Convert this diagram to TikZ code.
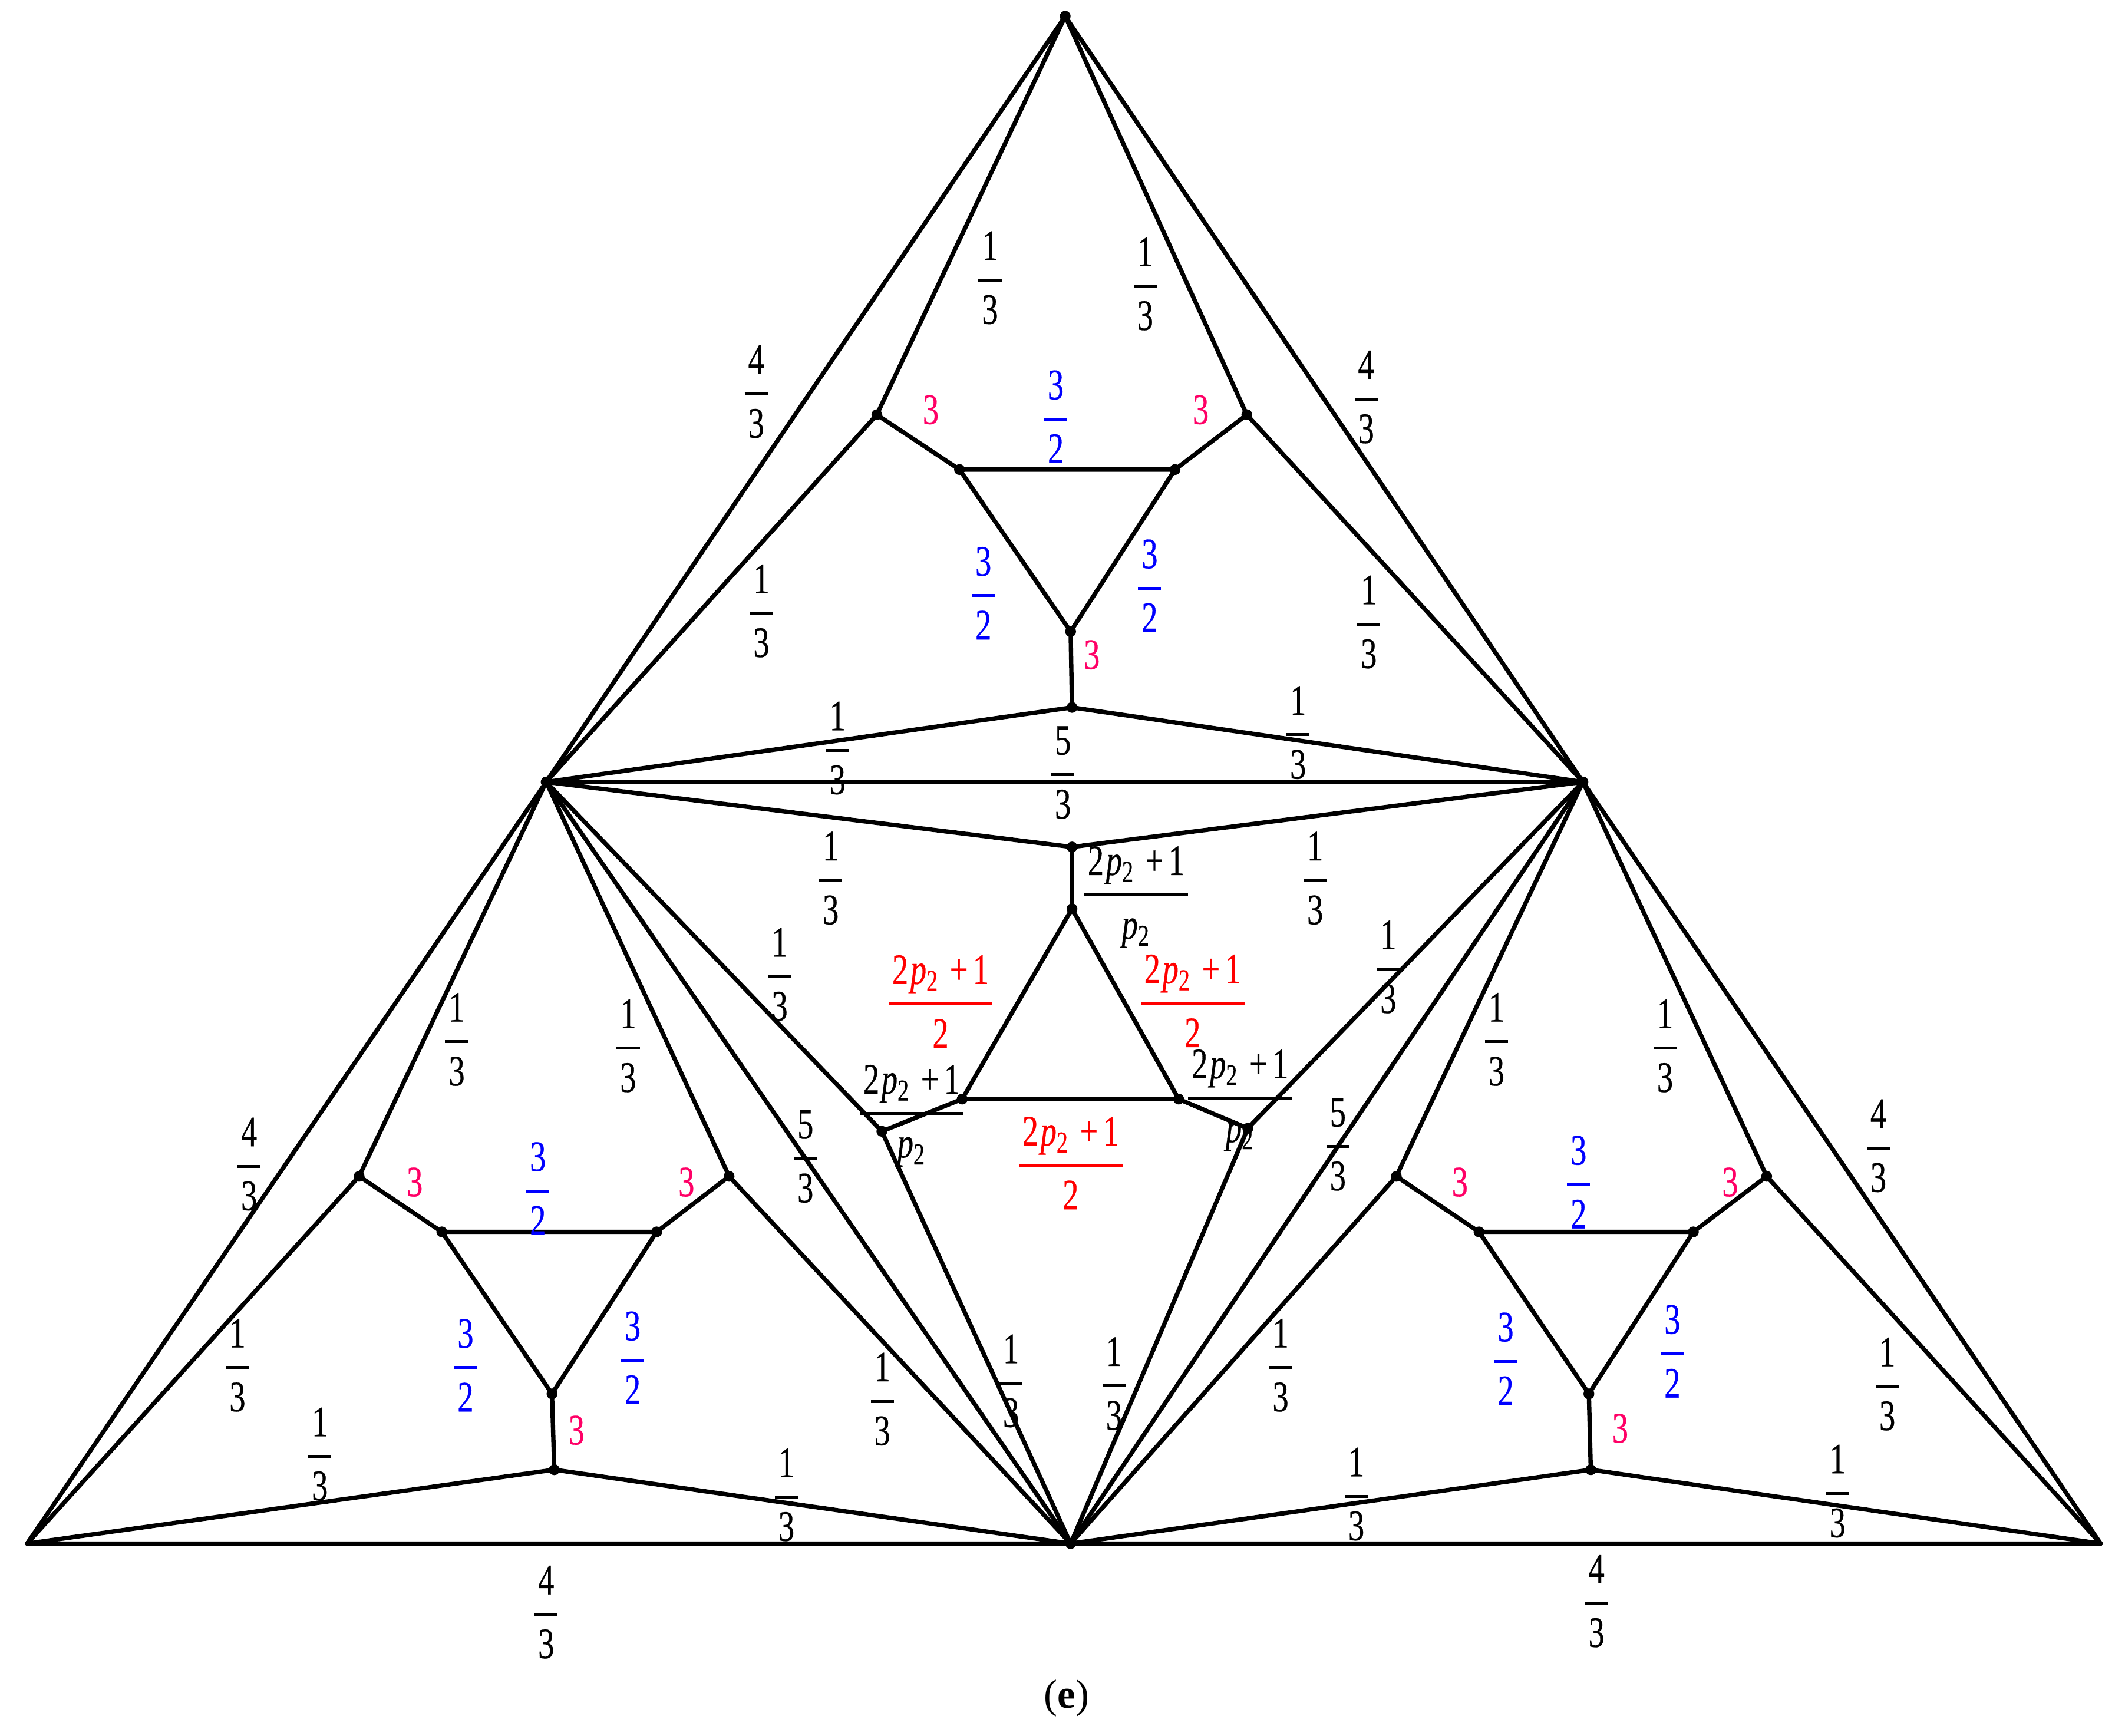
\documentclass[tikz,border=0pt]{standalone}
\usepackage{amsmath,amssymb}
\usepackage{fontspec}
\setmainfont{Liberation Serif}[FakeStretch=0.74, FakeBold=0.4]
\newfontfamily\capfont{Liberation Serif}
\usepackage{xcolor}
\usepackage{tikz}

\definecolor{wred}{RGB}{255,0,0}
\definecolor{wpink}{RGB}{255,0,102}
\definecolor{wblue}{RGB}{0,0,255}

\newcommand{\pp}{\textit{p}\textsubscript{2}}
\newcommand{\fr}[2]{$\genfrac{}{}{1.1pt}{0}{\mbox{\kern1.3pt#1\kern1.3pt}}{\mbox{\kern1.3pt#2\kern1.3pt}}$}
\newcommand{\tp}{2\kern0.8pt\pp\hspace{4pt}+\kern1.8pt1}

\begin{document}
\begin{tikzpicture}[x=0.5pt, y=-0.5pt,
    edge/.style={line width=1.6pt, line join=round},
    lab/.style={inner sep=0pt, font=\fontsize{16}{19}\selectfont}]
            \useasboundingbox (0,0) rectangle (1568,1281);

            \coordinate (A) at (786,12);
            \coordinate (L) at (403,577);
            \coordinate (R) at (1168,577);
            \coordinate (BL) at (20,1139);
            \coordinate (BM) at (790,1139);
            \coordinate (BR) at (1550,1139);

            \coordinate (t1) at (647,306);
            \coordinate (t2) at (920,306);
            \coordinate (t3) at (791,522);
            \coordinate (ta) at (708,346.5);
            \coordinate (tb) at (867,346.5);
            \coordinate (tc) at (790,466);

            \coordinate (l1) at (265,868);
            \coordinate (l2) at (538,868);
            \coordinate (l3) at (409,1084.5);
            \coordinate (la) at (326,909);
            \coordinate (lb) at (484.5,909);
            \coordinate (lc) at (407.3,1028.5);

            \coordinate (r1) at (1030.3,868);
            \coordinate (r2) at (1303.6,868);
            \coordinate (r3) at (1173.8,1084.5);
            \coordinate (ra) at (1091.3,909);
            \coordinate (rb) at (1249.5,909);
            \coordinate (rc) at (1172.4,1028.5);

            \coordinate (c1) at (791,625);
            \coordinate (c2) at (791,670.6);
            \coordinate (ca) at (710,811);
            \coordinate (cb) at (869.7,811);
            \coordinate (cl) at (650.7,834.8);
            \coordinate (cr) at (920.7,832.6);

            \draw[edge] (A) -- (L) -- (BL) -- (BM) -- (BR) -- (R) -- cycle;
            \draw[edge] (L) -- (R) -- (BM) -- cycle;

            \draw[edge] (A) -- (t1) -- (L) -- (t3) -- (R) -- (t2) -- cycle;
            \draw[edge] (t1) -- (ta) -- (tb) -- (t2);
            \draw[edge] (ta) -- (tc) -- (tb);
            \draw[edge] (tc) -- (t3);

            \draw[edge] (L) -- (l1) -- (BL) -- (l3) -- (BM) -- (l2) -- cycle;
            \draw[edge] (l1) -- (la) -- (lb) -- (l2);
            \draw[edge] (la) -- (lc) -- (lb);
            \draw[edge] (lc) -- (l3);

            \draw[edge] (R) -- (r1) -- (BM) -- (r3) -- (BR) -- (r2) -- cycle;
            \draw[edge] (r1) -- (ra) -- (rb) -- (r2);
            \draw[edge] (ra) -- (rc) -- (rb);
            \draw[edge] (rc) -- (r3);

            \draw[edge] (L) -- (c1) -- (R) -- (cr) -- (BM) -- (cl) -- cycle;
            \draw[edge] (c1) -- (c2);
            \draw[edge] (cl) -- (ca) -- (cb) -- (cr);
            \draw[edge] (ca) -- (c2) -- (cb);

            \foreach \v in {A,L,R,BM,t1,t2,t3,ta,tb,tc,l1,l2,l3,la,lb,lc,r1,r2,r3,ra,rb,rc,c1,c2,ca,cb,cl,cr}
                \fill (\v) circle (2pt);

            \node[lab] (f1) at (730.5,205) {\fr{1}{3}};
            \node[lab] (f2) at (845,209.5) {\fr{1}{3}};
            \node[lab] (f3) at (561.8,450.8) {\fr{1}{3}};
            \node[lab] (f4) at (1010,459) {\fr{1}{3}};
            \node[lab] (f5) at (618,552) {\fr{1}{3}};
            \node[lab] (f6) at (957.8,540.6) {\fr{1}{3}};
            \node[lab] (f7) at (613,648) {\fr{1}{3}};
            \node[lab] (f8) at (970.4,648) {\fr{1}{3}};
            \node[lab] (f9) at (575.3,719) {\fr{1}{3}};
            \node[lab] (f10) at (1024.4,713.5) {\fr{1}{3}};
            \node[lab] (f11) at (746,1019) {\fr{1}{3}};
            \node[lab] (f12) at (822,1021) {\fr{1}{3}};
            \node[lab] (f13) at (337,767) {\fr{1}{3}};
            \node[lab] (f14) at (463.5,771.7) {\fr{1}{3}};
            \node[lab] (f15) at (175.2,1007.4) {\fr{1}{3}};
            \node[lab] (f16) at (236,1073) {\fr{1}{3}};
            \node[lab] (f17) at (580.3,1103) {\fr{1}{3}};
            \node[lab] (f18) at (651,1032.4) {\fr{1}{3}};
            \node[lab] (f19) at (1104.2,767) {\fr{1}{3}};
            \node[lab] (f20) at (1228.6,771.7) {\fr{1}{3}};
            \node[lab] (f21) at (944.9,1007.4) {\fr{1}{3}};
            \node[lab] (f22) at (1392.6,1021.3) {\fr{1}{3}};
            \node[lab] (f23) at (1000.8,1102.5) {\fr{1}{3}};
            \node[lab] (f24) at (1355.9,1100.3) {\fr{1}{3}};

            \node[lab] (g1) at (558,289) {\fr{4}{3}};
            \node[lab] (g2) at (1008,293) {\fr{4}{3}};
            \node[lab] (g3) at (183.8,859) {\fr{4}{3}};
            \node[lab] (g4) at (1386,845.5) {\fr{4}{3}};
            \node[lab] (g5) at (403,1189.6) {\fr{4}{3}};
            \node[lab] (g6) at (1178,1181.3) {\fr{4}{3}};

            \node[lab] (h1) at (784.3,570) {\fr{5}{3}};
            \node[lab] (h2) at (594.3,853.3) {\fr{5}{3}};
            \node[lab] (h3) at (987.2,844.4) {\fr{5}{3}};

            \node[lab, text=wblue] (b1) at (779,307.5) {\fr{3}{2}};
            \node[lab, text=wblue] (b2) at (725.6,437.7) {\fr{3}{2}};
            \node[lab, text=wblue] (b3) at (848.3,432.2) {\fr{3}{2}};
            \node[lab, text=wblue] (b4) at (396.9,877) {\fr{3}{2}};
            \node[lab, text=wblue] (b5) at (343.5,1007.4) {\fr{3}{2}};
            \node[lab, text=wblue] (b6) at (466.8,1001.9) {\fr{3}{2}};
            \node[lab, text=wblue] (b7) at (1164.8,872.3) {\fr{3}{2}};
            \node[lab, text=wblue] (b8) at (1111,1002.7) {\fr{3}{2}};
            \node[lab, text=wblue] (b9) at (1234,997.1) {\fr{3}{2}};

            \node[lab, text=wpink] (k1) at (686.8,302.4) {3};
            \node[lab, text=wpink] (k2) at (886,302.4) {3};
            \node[lab, text=wpink] (k3) at (805.6,483.2) {3};
            \node[lab, text=wpink] (k4) at (306,872.3) {3};
            \node[lab, text=wpink] (k5) at (506.5,872.3) {3};
            \node[lab, text=wpink] (k6) at (425.4,1055.4) {3};
            \node[lab, text=wpink] (k7) at (1077.2,872.3) {3};
            \node[lab, text=wpink] (k8) at (1276.6,872.3) {3};
            \node[lab, text=wpink] (k9) at (1195.5,1054) {3};

            \node[lab, text=wred] (e1) at (694,739) {\fr{\tp}{2}};
            \node[lab, text=wred] (e2) at (880,738.5) {\fr{\tp}{2}};
            \node[lab, text=wred] (e3) at (790,858.2) {\fr{\tp}{2}};

            \node[lab] (w1) at (838.3,662) {\fr{\tp}{\pp}};
            \node[lab] (w2) at (672.7,823.3) {\fr{\tp}{\pp}};
            \node[lab] (w3) at (915,812) {\fr{\tp}{\pp}};

            \node[inner sep=0pt, font=\capfont\fontsize{15}{18}\selectfont] (cap) at (787,1253) {(\textbf{e})};
        \end{tikzpicture}
\end{document}
